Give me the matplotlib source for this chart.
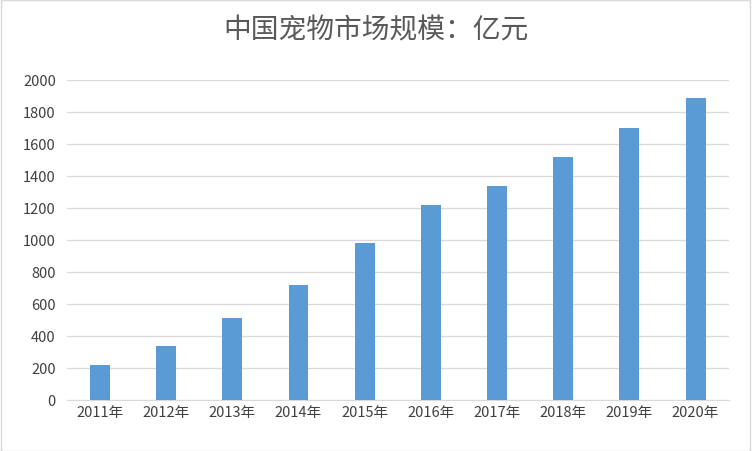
import matplotlib

matplotlib.use("Agg")

import matplotlib.pyplot as plt
from matplotlib.patches import Rectangle

plt.rcParams["font.family"] = ["Noto Sans CJK SC", "DejaVu Sans"]

years = ["2011年", "2012年", "2013年", "2014年", "2015年",
         "2016年", "2017年", "2018年", "2019年", "2020年"]
values = [220, 340, 510, 720, 980, 1220, 1340, 1520, 1700, 1890]
yticks = list(range(0, 2001, 200))

fig = plt.figure(figsize=(7.52, 4.52), dpi=100)
ax = fig.add_axes([0.089, 0.113, 0.880, 0.708])
ax.bar(range(len(years)), values, width=0.3, color="#5b9bd5", zorder=3)
ax.set_xlim(-0.5, len(years) - 0.5)
ax.set_ylim(0, 2000)
ax.set_yticks(yticks)
ax.set_xticks(range(len(years)))
ax.set_xticklabels(years)
ax.tick_params(axis="both", length=0, labelsize=10.5, colors="#404040")
ax.tick_params(axis="y", pad=8)
ax.grid(axis="y", color="#d9d9d9", lw=0.9, zorder=0)
for side in ("top", "right", "left"):
    ax.spines[side].set_visible(False)
ax.spines["bottom"].set_color("#d9d9d9")
fig.suptitle("中国宠物市场规模：亿元", y=0.965, fontsize=20, color="#595959")
fig.patches.append(Rectangle((0.001, 0.001), 0.997, 0.997, transform=fig.transFigure,
                             fill=False, edgecolor="#d9d9d9", lw=1))
fig.savefig("out.png", dpi=100, facecolor="white")
